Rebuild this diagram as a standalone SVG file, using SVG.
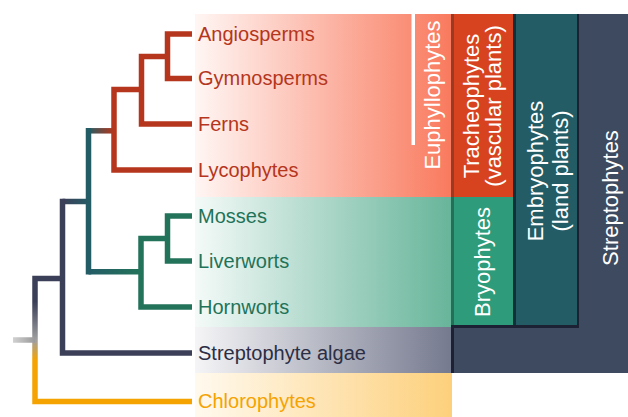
<svg xmlns="http://www.w3.org/2000/svg" width="628" height="417" viewBox="0 0 628 417">
<defs>
<style>
.lbl{font-family:"Liberation Sans",Arial,sans-serif;font-size:20px}
.vlbl{font-family:"Liberation Sans",Arial,sans-serif;font-size:22px;fill:#ffffff;text-anchor:middle}
.br{fill:none;stroke-width:5.5;stroke-linejoin:miter}
.red{stroke:#b5361c}.grn{stroke:#23735a}.drk{stroke:#3b3f58}.tea{stroke:#245c66}.org{stroke:#f5a300}
</style>
<linearGradient id="gRed" gradientUnits="userSpaceOnUse" x1="195" y1="0" x2="451" y2="0"><stop offset="0" stop-color="#fff6f4"/><stop offset="1" stop-color="#f97a5e"/></linearGradient>
<linearGradient id="gGrn" gradientUnits="userSpaceOnUse" x1="195" y1="0" x2="451" y2="0"><stop offset="0" stop-color="#f4faf8"/><stop offset="1" stop-color="#67b59a"/></linearGradient>
<linearGradient id="gGry" gradientUnits="userSpaceOnUse" x1="195" y1="0" x2="451" y2="0"><stop offset="0" stop-color="#f5f5f7"/><stop offset="1" stop-color="#767a8f"/></linearGradient>
<linearGradient id="gYel" gradientUnits="userSpaceOnUse" x1="195" y1="0" x2="452" y2="0"><stop offset="0" stop-color="#fff9ee"/><stop offset="1" stop-color="#fdd07c"/></linearGradient>
<linearGradient id="gTealRed" gradientUnits="userSpaceOnUse" x1="88" y1="0" x2="114" y2="0"><stop offset="0" stop-color="#245c66"/><stop offset="1" stop-color="#b5361c"/></linearGradient>
<linearGradient id="gTealGrn" gradientUnits="userSpaceOnUse" x1="88" y1="0" x2="141" y2="0"><stop offset="0" stop-color="#245c66"/><stop offset="1" stop-color="#23735a"/></linearGradient>
<linearGradient id="gDrkTeal" gradientUnits="userSpaceOnUse" x1="62" y1="0" x2="89" y2="0"><stop offset="0" stop-color="#3b3f58"/><stop offset="1" stop-color="#245c66"/></linearGradient>
<linearGradient id="gRootV" gradientUnits="userSpaceOnUse" x1="0" y1="276" x2="0" y2="404"><stop offset="0" stop-color="#3b3f58"/><stop offset="0.2" stop-color="#3b3f58"/><stop offset="0.5" stop-color="#a0a0a0"/><stop offset="0.66" stop-color="#f5a300"/><stop offset="1" stop-color="#f5a300"/></linearGradient>
<linearGradient id="gRootH" gradientUnits="userSpaceOnUse" x1="12" y1="0" x2="35" y2="0"><stop offset="0" stop-color="#d4d4d4"/><stop offset="1" stop-color="#999999"/></linearGradient>
</defs>

<g id="bands">
<rect x="195" y="14" width="256" height="183" fill="url(#gRed)"/>
<rect x="195" y="197" width="256" height="130" fill="url(#gGrn)"/>
<rect x="195" y="327" width="256" height="46" fill="url(#gGry)"/>
<rect x="195" y="373" width="257" height="44" fill="url(#gYel)"/>
</g>

<g id="connectors">
<path class="br red" d="M192,34 H167.5 V78.5 H192"/>
<path class="br red" d="M167.5,56.5 H141.5 V124 H192"/>
<path class="br red" d="M141.5,89.5 H114 V170 H192"/>
<path class="br" stroke="url(#gTealRed)" d="M88.5,130.8 H114"/>
<path class="br grn" d="M192,216 H167.5 V261 H192"/>
<path class="br grn" d="M167.5,238.5 H141 V307 H192"/>
<path class="br" stroke="url(#gTealGrn)" d="M88.5,271.7 H141"/>
<path class="br tea" stroke-linecap="square" d="M88.5,130.8 V271.7"/>
<path class="br" stroke="url(#gDrkTeal)" d="M62.5,201.5 H88.5"/>
<path class="br drk" d="M62.5,198.75 V353 H192"/>
<path class="br" stroke="url(#gRootV)" d="M62.5,278.5 H35 V401.5 H192"/>
<path class="br" stroke="url(#gRootH)" d="M13,340 H35"/>
</g>

<g id="angiosperms"><text class="lbl" x="198" y="40.5" fill="#b5361c">Angiosperms</text></g>
<g id="gymnosperms"><text class="lbl" x="198" y="85" fill="#b5361c">Gymnosperms</text></g>
<g id="ferns"><text class="lbl" x="198" y="130.5" fill="#b5361c">Ferns</text></g>
<g id="lycophytes"><text class="lbl" x="198" y="176.5" fill="#b5361c">Lycophytes</text></g>
<g id="mosses"><text class="lbl" x="198" y="222.5" fill="#1f7358">Mosses</text></g>
<g id="liverworts"><text class="lbl" x="198" y="267.5" fill="#1f7358">Liverworts</text></g>
<g id="hornworts"><text class="lbl" x="198" y="313.5" fill="#1f7358">Hornworts</text></g>
<g id="streptophyte-algae"><text class="lbl" x="198" y="359.5" fill="#2b2e45">Streptophyte algae</text></g>
<g id="chlorophytes"><text class="lbl" x="198" y="408" fill="#f5a300">Chlorophytes</text></g>

<g id="euphyllophytes">
<rect x="411.5" y="14" width="3.5" height="131" fill="#ffffff"/>
<text class="vlbl" transform="translate(440,95) rotate(-90)">Euphyllophytes</text>
</g>

<g id="streptophytes">
<path d="M578,14 H628 V373 H451 V327 H578 Z" fill="#3e4a60"/>
<path d="M452.5,373 V326.5 H577.5 V14" fill="none" stroke="#1c2233" stroke-width="3"/>
<text class="vlbl" transform="translate(618,198) rotate(-90)">Streptophytes</text>
</g>

<g id="embryophytes">
<rect x="513" y="14" width="64" height="311" fill="#245c66"/>
<rect x="513" y="14" width="3" height="311" fill="#12303a"/>
<text class="vlbl" transform="translate(543,171) rotate(-90)">Embryophytes</text>
<text class="vlbl" transform="translate(568,171) rotate(-90)">(land plants)</text>
</g>

<g id="tracheophytes">
<rect x="451" y="14" width="62" height="183" fill="#d8431f"/>
<rect x="451" y="14" width="3" height="183" fill="#9a3a22"/>
<text class="vlbl" transform="translate(479,106) rotate(-90)">Tracheophytes</text>
<text class="vlbl" transform="translate(501,106) rotate(-90)">(vascular plants)</text>
</g>

<g id="bryophytes">
<rect x="451" y="197" width="62" height="128" fill="#2e9c7a"/>
<rect x="451" y="197" width="3" height="128" fill="#236f58"/>
<text class="vlbl" transform="translate(490,262) rotate(-90)">Bryophytes</text>
</g>
</svg>
